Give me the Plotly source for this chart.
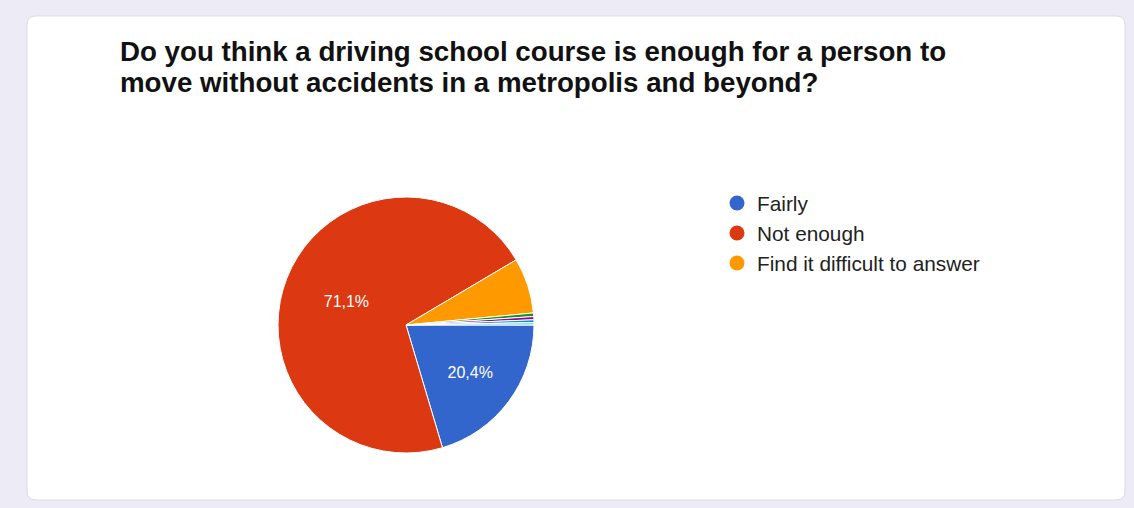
import plotly.graph_objects as go

W, H = 1134, 508

labels = ["Fairly", "Not enough", "Find it difficult to answer", "Other 1", "Other 2", "Other 3", "Other 4"]
values = [20.4, 71.1, 7.0, 0.45, 0.4, 0.35, 0.3]
slice_text = ["20,4%", "71,1%", "", "", "", "", ""]
colors = ["#3366cc", "#dc3912", "#ff9900", "#109618", "#990099", "#0099c6", "#7fd0ee"]
legend_labels = ["Fairly", "Not enough", "Find it difficult to answer"]
title_lines = ["Do you think a driving school course is enough for a person to",
               "move without accidents in a metropolis and beyond?"]

fig = go.Figure()

fig.add_trace(go.Pie(
    labels=labels, values=values, text=slice_text, textinfo="text",
    textposition="inside", insidetextorientation="horizontal",
    textfont=dict(family="Liberation Sans, Arial", size=16, color="white"),
    marker=dict(colors=colors, line=dict(color="white", width=1)),
    sort=False, direction="clockwise", rotation=90, showlegend=False,
    hoverinfo="label+percent",
    domain=dict(x=[278 / W, 534 / W], y=[(H - 453) / H, (H - 197) / H]),
))

legend_names = ["legend", "legend2", "legend3"]
legend_tops = [183, 213, 243]
for i, name in enumerate(legend_labels):
    fig.add_trace(go.Scatter(
        x=[None], y=[None], mode="markers", name=name,
        marker=dict(color=colors[i], size=15, symbol="circle"),
        legend=legend_names[i], showlegend=True,
    ))

layout_legends = {}
for i, ln in enumerate(legend_names):
    layout_legends[ln] = dict(
        x=717 / W, y=1 - legend_tops[i] / H, xanchor="left", yanchor="top",
        bgcolor="rgba(0,0,0,0)",
        font=dict(family="Liberation Sans, Arial", size=20.8, color="#222222"),
        itemwidth=30,
    )

# rounded card
x0, x1, y0, y1, r = 27, 1125, 16, 500, 9
def px(x): return x / W
def py(y): return 1 - y / H
path = (f"M {px(x0 + r)} {py(y0)} L {px(x1 - r)} {py(y0)} "
        f"Q {px(x1)} {py(y0)} {px(x1)} {py(y0 + r)} L {px(x1)} {py(y1 - r)} "
        f"Q {px(x1)} {py(y1)} {px(x1 - r)} {py(y1)} L {px(x0 + r)} {py(y1)} "
        f"Q {px(x0)} {py(y1)} {px(x0)} {py(y1 - r)} L {px(x0)} {py(y0 + r)} "
        f"Q {px(x0)} {py(y0)} {px(x0 + r)} {py(y0)} Z")

annotations = []
for i, line in enumerate(title_lines):
    annotations.append(dict(
        text=f"<b>{line}</b>", x=118 / W, y=1 - (51 + 32 * i) / H,
        xref="paper", yref="paper", xanchor="left", yanchor="middle",
        showarrow=False, font=dict(family="Liberation Sans, Arial", size=27.7, color="#111111"),
    ))

fig.update_layout(
    width=W, height=H, margin=dict(l=0, r=0, t=0, b=0),
    paper_bgcolor="#ecebf6", plot_bgcolor="rgba(0,0,0,0)",
    xaxis=dict(visible=False), yaxis=dict(visible=False),
    shapes=[dict(type="path", path=path, xref="paper", yref="paper",
                 fillcolor="white", line=dict(color="#dcdbe6", width=1), layer="below")],
    annotations=annotations,
    **layout_legends,
)

fig.write_html("out.html")
